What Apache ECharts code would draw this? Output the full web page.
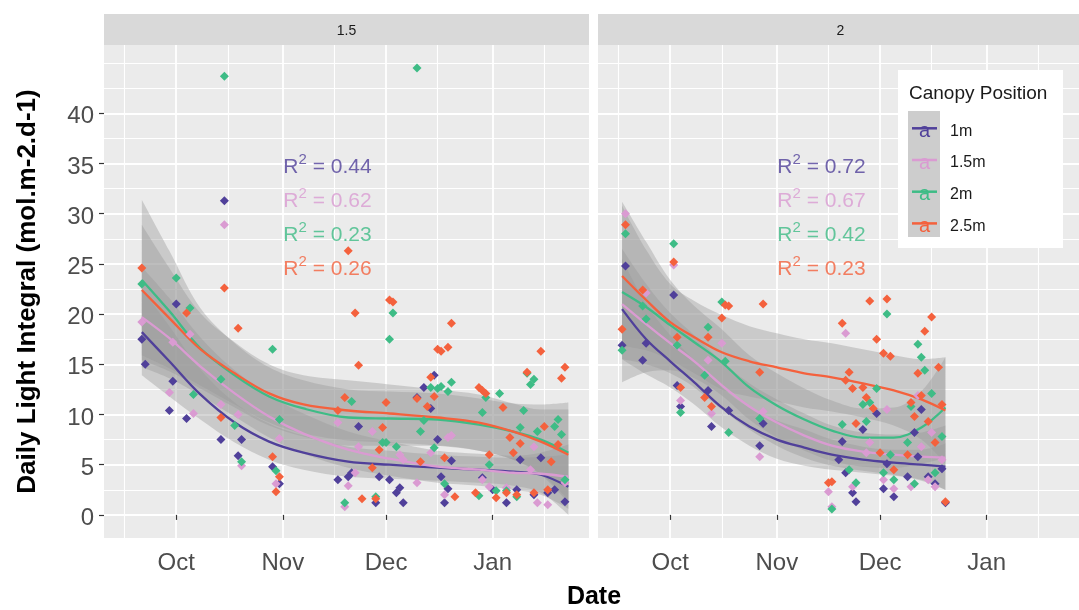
<!DOCTYPE html>
<html><head><meta charset="utf-8">
<script src="https://cdn.jsdelivr.net/npm/echarts@6/dist/echarts.min.js"></script>
<style>html,body{margin:0;padding:0;background:#fff}#c{width:1079px;height:610px}</style>
</head><body><div id="c"></div>
<script>
// ---------- data ----------
const seriesNames = ['1m','1.5m','2m','2.5m'];
const seriesColors = ['#50409A','#DA9BD2','#3EBC86','#F4613D'];
const panelNames = ['1.5','2'];
const monthTicks = ['2018-10-01','2018-11-01','2018-12-01','2019-01-01'];
const monthLabels = ['Oct','Nov','Dec','Jan'];
const minorDateTicks = ['2018-09-16','2018-10-16','2018-11-16','2018-12-16','2019-01-16'];
const yTicks = [0,5,10,15,20,25,30,35,40];
const yMinorTicks = [2.5,7.5,12.5,17.5,22.5,27.5,32.5,37.5,42.5,45];
const r2Left = [0.44,0.62,0.23,0.26];
const r2Right = [0.72,0.67,0.42,0.23];
const r2LabelY = [34.65,31.25,27.85,24.45];
const r2LabelDate = '2018-11-01';

// panel 1.5 points
const ptsL1 = [['2018-09-21',17.5],['2018-09-22',15.0],['2018-09-29',10.4],['2018-09-30',13.3],['2018-10-01',21.0],['2018-10-04',9.6],['2018-10-14',7.5],['2018-10-15',31.3],['2018-10-19',5.9],['2018-10-20',7.5],['2018-10-29',4.8],['2018-10-31',3.1],['2018-11-17',3.5],['2018-11-20',3.8],['2018-11-21',4.2],['2018-11-23',8.8],['2018-11-28',1.2],['2018-11-29',3.8],['2018-12-02',3.5],['2018-12-04',2.2],['2018-12-05',2.7],['2018-12-06',1.2],['2018-12-10',11.7],['2018-12-12',12.7],['2018-12-14',10.6],['2018-12-15',13.9],['2018-12-16',7.5],['2018-12-17',3.8],['2018-12-18',1.2],['2018-12-19',2.6],['2018-12-20',5.4],['2018-12-29',3.7],['2019-01-01',2.5],['2019-01-05',1.2],['2019-01-08',2.5],['2019-01-09',5.5],['2019-01-13',2.0],['2019-01-15',5.7],['2019-01-17',2.2],['2019-01-19',2.5],['2019-01-22',1.3]];
const ptsL15 = [['2018-09-21',19.2],['2018-09-29',12.2],['2018-09-30',17.2],['2018-10-05',18.0],['2018-10-06',10.1],['2018-10-14',11.0],['2018-10-15',28.9],['2018-10-19',10.0],['2018-10-20',4.9],['2018-10-30',3.1],['2018-10-31',7.6],['2018-11-17',9.2],['2018-11-19',0.8],['2018-11-20',2.9],['2018-11-22',4.2],['2018-11-23',6.8],['2018-11-27',8.3],['2018-12-05',6.0],['2018-12-06',5.5],['2018-12-10',3.2],['2018-12-14',6.2],['2018-12-18',2.0],['2018-12-19',7.7],['2018-12-20',7.9],['2018-12-29',3.5],['2018-12-31',2.8],['2019-01-05',2.7],['2019-01-12',4.5],['2019-01-13',6.8],['2019-01-14',1.2],['2019-01-17',1.0],['2019-01-22',3.2]];
const ptsL2 = [['2018-09-21',23.0],['2018-10-01',23.6],['2018-10-05',20.6],['2018-10-06',12.0],['2018-10-14',13.5],['2018-10-15',43.7],['2018-10-18',8.9],['2018-10-20',5.3],['2018-10-29',16.5],['2018-10-30',4.4],['2018-10-31',9.5],['2018-11-19',1.2],['2018-11-21',11.3],['2018-11-28',1.8],['2018-11-30',7.2],['2018-12-01',7.2],['2018-12-02',17.5],['2018-12-03',20.1],['2018-12-04',6.8],['2018-12-10',44.5],['2018-12-11',8.3],['2018-12-12',9.4],['2018-12-14',12.7],['2018-12-15',6.7],['2018-12-16',12.6],['2018-12-17',12.8],['2018-12-18',3.1],['2018-12-19',12.3],['2018-12-20',13.2],['2018-12-28',1.9],['2018-12-29',10.2],['2018-12-30',11.7],['2018-12-31',5.0],['2019-01-02',2.4],['2019-01-03',12.1],['2019-01-05',2.4],['2019-01-08',1.8],['2019-01-09',8.7],['2019-01-10',10.4],['2019-01-11',14.1],['2019-01-12',13.0],['2019-01-13',13.5],['2019-01-14',8.3],['2019-01-19',8.8],['2019-01-20',9.5],['2019-01-21',8.0],['2019-01-22',3.5]];
const ptsL25 = [['2018-09-21',24.6],['2018-10-04',20.1],['2018-10-14',9.7],['2018-10-15',22.6],['2018-10-19',18.6],['2018-10-29',5.8],['2018-10-30',2.3],['2018-10-31',3.8],['2018-11-17',10.4],['2018-11-19',11.7],['2018-11-20',26.3],['2018-11-22',20.1],['2018-11-23',14.9],['2018-11-24',1.6],['2018-11-27',4.7],['2018-11-28',1.6],['2018-11-29',6.5],['2018-11-30',8.7],['2018-12-01',11.2],['2018-12-02',21.4],['2018-12-03',21.2],['2018-12-10',11.6],['2018-12-11',5.3],['2018-12-13',10.8],['2018-12-14',13.7],['2018-12-15',11.8],['2018-12-16',16.5],['2018-12-17',16.3],['2018-12-18',5.7],['2018-12-19',16.7],['2018-12-20',19.1],['2018-12-21',1.8],['2018-12-27',2.2],['2018-12-28',12.7],['2018-12-29',12.4],['2018-12-30',12.1],['2018-12-31',6.0],['2019-01-02',1.7],['2019-01-04',10.7],['2019-01-05',2.2],['2019-01-06',7.7],['2019-01-07',6.2],['2019-01-08',2.0],['2019-01-09',7.1],['2019-01-11',14.2],['2019-01-13',2.2],['2019-01-15',16.3],['2019-01-16',8.8],['2019-01-17',2.5],['2019-01-18',5.3],['2019-01-20',7.0],['2019-01-21',13.6],['2019-01-22',14.7]];

// panel 2 points
const ptsR1 = [['2018-09-17',16.9],['2018-09-18',24.8],['2018-09-23',15.4],['2018-09-24',17.1],['2018-10-02',21.9],['2018-10-03',12.9],['2018-10-04',10.8],['2018-10-12',12.4],['2018-10-13',8.8],['2018-10-18',10.4],['2018-10-27',6.9],['2018-10-28',9.1],['2018-11-19',5.5],['2018-11-20',7.3],['2018-11-21',4.2],['2018-11-23',2.2],['2018-11-24',1.3],['2018-11-26',8.5],['2018-11-30',10.1],['2018-12-02',2.6],['2018-12-03',5.1],['2018-12-05',1.8],['2018-12-09',3.8],['2018-12-11',8.2],['2018-12-12',5.8],['2018-12-13',10.5],['2018-12-15',3.8],['2018-12-17',3.1],['2018-12-19',4.6],['2018-12-20',1.2]];
const ptsR15 = [['2018-09-18',30.0],['2018-09-24',22.1],['2018-10-02',24.9],['2018-10-04',11.4],['2018-10-12',15.4],['2018-10-13',10.1],['2018-10-16',17.1],['2018-10-27',5.8],['2018-10-28',10.3],['2018-11-16',2.3],['2018-11-17',0.8],['2018-11-21',18.1],['2018-11-23',2.8],['2018-11-27',6.2],['2018-11-28',7.2],['2018-12-02',3.5],['2018-12-03',10.5],['2018-12-05',2.6],['2018-12-10',2.8],['2018-12-12',11.9],['2018-12-13',6.8],['2018-12-15',3.5],['2018-12-16',8.2],['2018-12-17',2.8],['2018-12-19',5.5]];
const ptsR2 = [['2018-09-17',16.4],['2018-09-18',28.0],['2018-09-23',20.8],['2018-09-24',19.5],['2018-10-02',27.0],['2018-10-03',16.9],['2018-10-04',10.2],['2018-10-11',13.9],['2018-10-12',18.7],['2018-10-16',21.2],['2018-10-17',15.3],['2018-10-18',8.2],['2018-10-27',9.6],['2018-11-17',0.6],['2018-11-20',9.0],['2018-11-22',4.5],['2018-11-24',3.2],['2018-11-26',11.0],['2018-11-27',9.3],['2018-11-28',11.2],['2018-11-30',12.6],['2018-12-02',4.2],['2018-12-03',20.0],['2018-12-04',6.0],['2018-12-05',3.5],['2018-12-09',7.2],['2018-12-10',10.8],['2018-12-11',3.1],['2018-12-12',17.0],['2018-12-13',15.7],['2018-12-14',14.4],['2018-12-16',12.1],['2018-12-17',4.2],['2018-12-19',7.8]];
const ptsR25 = [['2018-09-17',18.5],['2018-09-18',28.9],['2018-09-23',22.4],['2018-10-02',25.2],['2018-10-03',17.7],['2018-10-04',12.7],['2018-10-11',11.7],['2018-10-12',17.7],['2018-10-13',10.8],['2018-10-16',19.6],['2018-10-17',20.9],['2018-10-18',20.8],['2018-10-27',14.2],['2018-10-28',21.0],['2018-11-16',3.2],['2018-11-17',3.3],['2018-11-20',19.1],['2018-11-21',13.4],['2018-11-22',14.2],['2018-11-23',12.6],['2018-11-24',9.1],['2018-11-26',12.7],['2018-11-27',11.7],['2018-11-28',21.3],['2018-11-29',10.6],['2018-11-30',17.5],['2018-12-01',6.2],['2018-12-02',16.1],['2018-12-03',21.5],['2018-12-04',15.8],['2018-12-05',4.5],['2018-12-09',6.0],['2018-12-10',11.2],['2018-12-11',9.8],['2018-12-12',14.1],['2018-12-13',11.9],['2018-12-14',18.3],['2018-12-15',9.3],['2018-12-16',19.7],['2018-12-17',7.2],['2018-12-18',14.7],['2018-12-19',11.0],['2018-12-20',1.3]];

// smooth fits and half-widths of their bands
const fitDatesL = ['2018-09-21','2018-09-29','2018-10-08','2018-10-18','2018-10-28','2018-11-07','2018-11-20','2018-12-02','2018-12-16','2018-12-28','2019-01-07','2019-01-15','2019-01-23'];
const fitL1  = [18.2,15.3,12.0,9.2,7.3,6.2,5.3,5.0,4.7,4.5,4.3,4.0,2.8];
const fitL15 = [19.7,17.6,14.8,12.1,9.8,8.1,6.5,5.6,4.8,4.5,4.2,4.1,3.8];
const fitL2  = [23.4,20.3,16.6,13.9,11.8,10.6,9.7,9.6,9.5,9.0,8.3,7.5,6.2];
const fitL25 = [22.4,19.6,16.5,14.1,12.1,11.0,10.4,10.1,9.7,9.2,8.3,7.3,6.0];
const seL1  = [4.3,3.5,2.5,2.0,1.8,1.7,1.5,1.4,1.3,1.3,1.4,1.8,3.0];
const seL15 = [5.0,4.0,2.9,2.3,2.1,2.0,1.8,1.7,1.6,1.6,1.7,2.1,3.2];
const seL2  = [8.0,6.0,4.0,3.2,2.9,2.8,2.8,2.7,2.6,2.6,2.8,3.5,5.0];
const seL25 = [6.5,5.0,3.6,3.1,2.9,2.9,3.0,2.9,2.8,2.8,2.8,3.2,4.5];

const fitDatesR = ['2018-09-17','2018-09-24','2018-10-01','2018-10-08','2018-10-16','2018-10-24','2018-11-01','2018-11-09','2018-11-17','2018-11-26','2018-12-05','2018-12-13','2018-12-20'];
const fitR1  = [20.5,17.5,15.3,13.2,10.7,8.8,7.5,6.7,6.0,5.5,5.2,5.0,4.8];
const fitR15 = [21.0,19.0,17.1,15.3,12.9,10.8,9.2,7.9,6.9,6.3,6.0,5.8,5.7];
const fitR2  = [22.2,20.7,18.9,17.2,15.2,12.7,10.9,9.5,8.4,7.7,7.7,8.7,10.7];
const fitR25 = [23.8,21.4,19.2,17.7,16.2,15.3,14.7,14.1,13.7,13.1,12.4,11.5,10.4];
const seR1  = [5.0,3.5,2.6,2.2,2.0,1.9,1.9,1.8,1.5,1.3,1.3,1.5,2.3];
const seR15 = [5.5,4.0,3.0,2.6,2.4,2.3,2.3,2.2,2.0,1.9,2.0,2.4,3.2];
const seR2  = [9.0,6.5,4.5,3.6,3.3,3.2,3.2,3.1,3.0,2.9,3.0,3.6,5.0];
const seR25 = [7.0,5.0,3.8,3.6,3.7,3.5,3.4,3.4,3.4,3.4,3.5,4.0,5.3];

// ---------- build ----------
const t = s => Date.UTC(+s.slice(0,4), +s.slice(5,7)-1, +s.slice(8,10));
const FONT = '"Liberation Sans", Arial, sans-serif';
const xMin = t('2018-09-10'), xMax = t('2019-01-29');
const majorX = monthTicks.map(t), minorX = minorDateTicks.map(t);
const panels = [
  {pts:[ptsL1,ptsL15,ptsL2,ptsL25], dates:fitDatesL, fit:[fitL1,fitL15,fitL2,fitL25], se:[seL1,seL15,seL2,seL25], r2:r2Left},
  {pts:[ptsR1,ptsR15,ptsR2,ptsR25], dates:fitDatesR, fit:[fitR1,fitR15,fitR2,fitR25], se:[seR1,seR15,seR2,seR25], r2:r2Right}
];
const gridLeft = [104, 598], gridW = 485, gridTop = 45, gridH = 493;
const grids = [], xAxes = [], yAxes = [], series = [];
const monthName = v => { const i = majorX.indexOf(+v); return i >= 0 ? monthLabels[i] : ''; };
panels.forEach((p, pi) => {
  grids.push({left: gridLeft[pi], top: gridTop, width: gridW, height: gridH, show: true,
    backgroundColor: '#EBEBEB', borderWidth: 0, containLabel: false, outerBoundsMode: 'none'});
  // major x axis
  xAxes.push({type:'value', gridIndex: pi, min: xMin, max: xMax, position:'bottom',
    axisLine:{show:false},
    axisTick:{show:true, customValues: majorX, length:5, lineStyle:{color:'#333333', width:1.2}},
    axisLabel:{customValues: majorX, formatter: v => monthName(v),
      fontSize: 24, fontFamily: FONT, color:'#4D4D4D', margin: 13},
    splitLine:{show:true, lineStyle:{color:'#FFFFFF', width:1.8}}, z: 1});
  // minor x axis (gridlines only)
  xAxes.push({type:'value', gridIndex: pi, min: xMin, max: xMax, position:'bottom',
    axisLine:{show:false}, axisTick:{show:false, customValues: minorX},
    axisLabel:{show:false, customValues: minorX},
    splitLine:{show:true, lineStyle:{color:'#FFFFFF', width:1.1}}, z: 0});
  yAxes.push({type:'value', gridIndex: pi, min: -2.3, max: 46.8, position:'left',
    axisLine:{show:false},
    axisTick:{show: pi === 0, customValues: yTicks, length:5, lineStyle:{color:'#333333', width:1.2}},
    axisLabel:{show: pi === 0, customValues: yTicks, margin: 10,
      formatter: v => '{a|' + v + '}',
      rich:{a:{fontSize: 24, fontFamily: FONT, color:'#4D4D4D', padding:[7,0,0,0]}}},
    splitLine:{show:true, lineStyle:{color:'#FFFFFF', width:1.8}},
    name: pi === 0 ? 'Daily Light Integral (mol.m-2.d-1)' : '',
    nameLocation:'middle', nameGap: 63, nameRotate: 90,
    nameTextStyle:{fontSize: 26, fontWeight:'bold', fontFamily: FONT, color:'#000000'}, z: 1});
  yAxes.push({type:'value', gridIndex: pi, min: -2.3, max: 46.8, position:'left',
    axisLine:{show:false}, axisTick:{show:false, customValues: yMinorTicks},
    axisLabel:{show:false, customValues: yMinorTicks},
    splitLine:{show:true, lineStyle:{color:'#FFFFFF', width:1.1}}, z: 0});
  const xi = pi * 2, yi = pi * 2;
  // points
  p.pts.forEach((arr, g) => {
    series.push({type:'scatter', name: seriesNames[g] + ' pts', xAxisIndex: xi, yAxisIndex: yi,
      symbol:'diamond', symbolSize: 9, itemStyle:{color: seriesColors[g], opacity: 1},
      data: arr.map(d => [t(d[0]), d[1]]), silent: true, z: 2});
  });
  // ribbons + lines (band rows are [value, date] so that the value column is the stacked one)
  p.fit.forEach((fit, g) => {
    const xs = p.dates.map(t), se = p.se[g];
    const stackId = 'band' + pi + '_' + g;
    series.push({type:'line', name:'band', xAxisIndex: xi, yAxisIndex: yi, stack: stackId,
      encode:{x:1, y:0}, symbol:'none', smooth: 0.35, lineStyle:{opacity:0, width:0},
      data: xs.map((x,i) => [+(fit[i] - se[i]).toFixed(2), x]), silent:true, z: 2});
    series.push({type:'line', name:'band', xAxisIndex: xi, yAxisIndex: yi, stack: stackId,
      encode:{x:1, y:0}, symbol:'none', smooth: 0.35, lineStyle:{opacity:0, width:0},
      areaStyle:{color:'rgba(153,153,153,0.4)', opacity: 1},
      data: xs.map((x,i) => [+(2 * se[i]).toFixed(2), x]), silent:true, z: 2});
    series.push({type:'line', name: seriesNames[g], xAxisIndex: xi, yAxisIndex: yi,
      symbol:'none', smooth: 0.35, lineStyle:{color: seriesColors[g], width: 2.3},
      itemStyle:{color: seriesColors[g]},
      data: xs.map((x,i) => [x, fit[i]]), silent:true, z: 2});
  });
  // R^2 annotations
  series.push({type:'scatter', name:'r2', xAxisIndex: xi, yAxisIndex: yi, symbolSize: 1,
    itemStyle:{color:'rgba(0,0,0,0)'}, silent:true, z: 3,
    data: p.r2.map((r, i) => ({value:[t(r2LabelDate), r2LabelY[i]],
      label:{show:true, position:'right', distance: 0,
        formatter: '{r|R}{s|2}{r| = ' + r.toFixed(2) + '}',
        rich:{ r:{fontSize: 21, lineHeight: 30, fontFamily: FONT, color: seriesColors[i]},
               s:{fontSize: 15, lineHeight: 15, verticalAlign:'top', fontFamily: FONT, color: seriesColors[i]} } }}))
  });
});

const graphic = [];
panels.forEach((p, pi) => {
  graphic.push({type:'rect', z: 3, shape:{x: gridLeft[pi], y: 14, width: gridW, height: 31}, style:{fill:'#D9D9D9'}});
  graphic.push({type:'text', z: 4, x: gridLeft[pi] + gridW/2, y: 31,
    style:{text: panelNames[pi], fill:'#1A1A1A', fontSize: 14, fontFamily: FONT, align:'center', verticalAlign:'middle'}});
});
graphic.push({type:'text', z: 4, x: 594, y: 597,
  style:{text:'Date', fill:'#000', fontSize: 25, fontWeight:'bold', fontFamily: FONT, align:'center', verticalAlign:'middle'}});
// legend box
graphic.push({type:'rect', z: 3, shape:{x: 898, y: 70, width: 165, height: 178}, style:{fill:'#FFFFFF'}});
graphic.push({type:'rect', z: 3, shape:{x: 908, y: 111, width: 32, height: 126}, style:{fill:'#CDCDCD'}});
graphic.push({type:'text', z: 4, x: 909, y: 94,
  style:{text:'Canopy Position', fill:'#1A1A1A', fontSize: 19, fontFamily: FONT, align:'left', verticalAlign:'middle'}});
seriesNames.forEach((n, i) => {
  graphic.push({type:'text', z: 6, x: 924.5, y: 131.5 + i * 31.7,
    style:{text:'a', fill: seriesColors[i], fontSize: 20, fontFamily: FONT, align:'center', verticalAlign:'middle'}});
});

const option = {
  animation: false,
  backgroundColor: '#FFFFFF',
  grid: grids, xAxis: xAxes, yAxis: yAxes, series,
  legend: {show: true, orient:'vertical', left: 912, top: 117.3, itemWidth: 25, itemHeight: 2.5,
    icon:'rect', itemGap: 9.7, selectedMode: false, z: 5, padding: 0,
    formatter: '{a|{name}}',
    textStyle:{fontSize: 16, lineHeight: 20, color:'#1A1A1A', fontFamily: FONT,
      rich:{a:{fontSize: 16, lineHeight: 20, color:'#1A1A1A', fontFamily: FONT, padding:[6,0,0,8]}}},
    data: seriesNames.map((n, i) => ({name: n, itemStyle:{color: seriesColors[i]}, lineStyle:{color: seriesColors[i]}}))},
  graphic
};
const chart = echarts.init(document.getElementById('c'), null, {renderer:'canvas'});
chart.setOption(option);
</script></body></html>
